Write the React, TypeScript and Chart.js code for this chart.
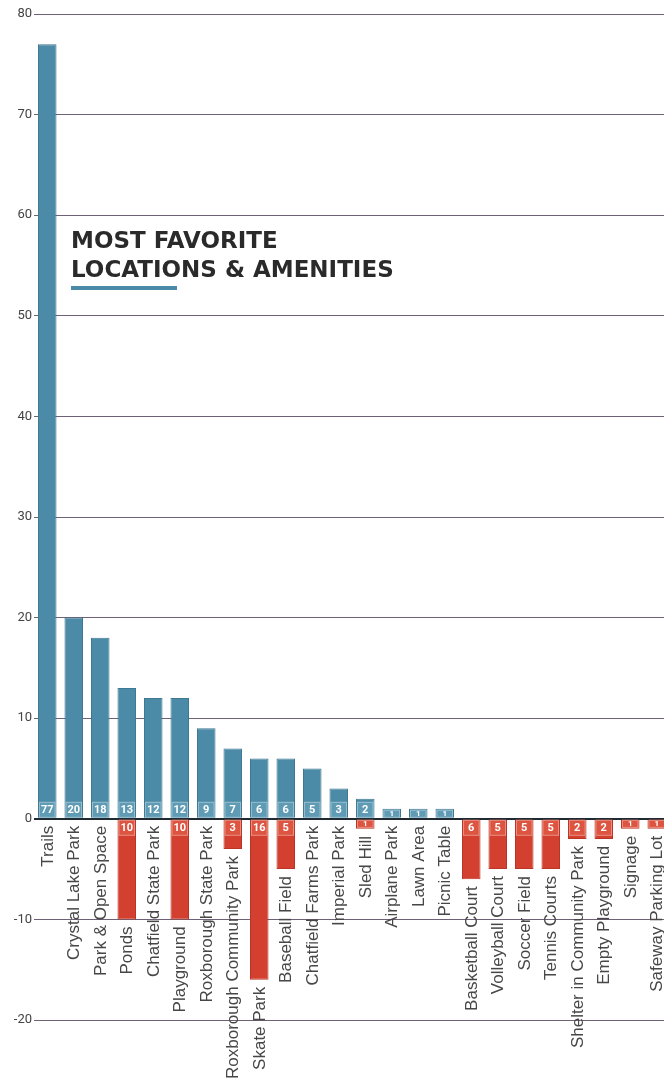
import React, { useEffect, useRef } from "react";
import { Chart, registerables } from "chart.js";

Chart.register(...registerables);

const categories = [
  "Trails",
  "Crystal Lake Park",
  "Park & Open Space",
  "Ponds",
  "Chatfield State Park",
  "Playground",
  "Roxborough State Park",
  "Roxborough Community Park",
  "Skate Park",
  "Baseball Field",
  "Chatfield Farms Park",
  "Imperial Park",
  "Sled Hill",
  "Airplane Park",
  "Lawn Area",
  "Picnic Table",
  "Basketball Court",
  "Volleyball Court",
  "Soccer Field",
  "Tennis Courts",
  "Shelter in Community Park",
  "Empty Playground",
  "Signage",
  "Safeway Parking Lot",
];

const favoriteCounts = [77, 20, 18, 13, 12, 12, 9, 7, 6, 6, 5, 3, 2, 1, 1, 1, 0, 0, 0, 0, 0, 0, 0, 0];
const leastFavoriteCounts = [0, 0, 0, 10, 0, 10, 0, 3, 16, 5, 0, 0, 1, 0, 0, 0, 6, 5, 5, 5, 2, 2, 1, 1];

const yMin = -20;
const yMax = 80;
const yStep = 10;

const titleLines = ["MOST FAVORITE", "LOCATIONS & AMENITIES"];

const BLUE = "#4c8ba7";
const BLUE_DARK = "#3f7892";
const RED = "#d3402f";
const RED_DARK = "#b93526";

const labelsPlugin = {
  id: "customLabels",
  afterDatasetsDraw(chart: any) {
    const ctx = chart.ctx;
    const xScale = chart.scales.x;
    const yScale = chart.scales.y;
    const zeroY = yScale.getPixelForValue(0);

    // value boxes
    chart.data.datasets.forEach((ds: any, di: number) => {
      const meta = chart.getDatasetMeta(di);
      meta.data.forEach((bar: any, i: number) => {
        const raw = di === 0 ? favoriteCounts[i] : leastFavoriteCounts[i];
        if (!raw) return;
        const props = bar.getProps(["x", "y", "base", "width"], true);
        const h = Math.abs(props.base - props.y);
        const bh = Math.min(16, h - 1);
        const bw = props.width - 2;
        const left = props.x - bw / 2;
        const top = di === 0 ? zeroY - 1 - bh : zeroY + 1;
        ctx.save();
        ctx.fillStyle = di === 0 ? "#5f9bb5" : "#dd5440";
        ctx.strokeStyle = "rgba(255,255,255,0.35)";
        ctx.lineWidth = 1;
        ctx.fillRect(left, top, bw, bh);
        ctx.strokeRect(left + 0.5, top + 0.5, bw - 1, bh - 1);
        ctx.fillStyle = "#ffffff";
        const fs = Math.min(11, bh);
        ctx.font = `bold ${fs}px Roboto, "Noto Sans", sans-serif`;
        ctx.textAlign = "center";
        ctx.textBaseline = "middle";
        ctx.fillText(String(raw), props.x, top + bh / 2 + 0.5);
        ctx.restore();
      });
    });

    // category labels
    ctx.save();
    ctx.fillStyle = "#474747";
    ctx.font = '17px "Liberation Sans", Arial, sans-serif';
    ctx.textAlign = "right";
    ctx.textBaseline = "middle";
    categories.forEach((label, i) => {
      const x = xScale.getPixelForValue(i);
      const neg = leastFavoriteCounts[i];
      const bottom = neg ? yScale.getPixelForValue(-neg) : zeroY;
      const top = bottom + 7;
      ctx.save();
      ctx.translate(x + 1, top);
      ctx.rotate(-Math.PI / 2);
      ctx.fillText(label, 0, 0);
      ctx.restore();
    });
    ctx.restore();
  },
};

export default function App() {
  const canvasRef = useRef<HTMLCanvasElement | null>(null);

  useEffect(() => {
    if (!canvasRef.current) return;
    const chart = new Chart(canvasRef.current, {
      type: "bar",
      data: {
        labels: categories,
        datasets: [
          {
            label: "Most favorite",
            data: favoriteCounts.map((v) => (v ? v : null)),
            backgroundColor: BLUE,
            borderColor: BLUE_DARK,
            borderWidth: 1,
            barPercentage: 0.7,
            categoryPercentage: 1.0,
          },
          {
            label: "Least favorite",
            data: leastFavoriteCounts.map((v) => (v ? -v : null)),
            backgroundColor: RED,
            borderColor: RED_DARK,
            borderWidth: 1,
            barPercentage: 0.7,
            categoryPercentage: 1.0,
          },
        ],
      },
      options: {
        responsive: false,
        animation: false,
        devicePixelRatio: 1,
        layout: { padding: { top: 14, bottom: 62, left: 0, right: 0 } },
        plugins: {
          legend: { display: false },
          tooltip: { enabled: false },
          title: { display: false },
        },
        scales: {
          x: {
            display: false,
            stacked: true,
          },
          y: {
            stacked: true,
            min: yMin,
            max: yMax,
            afterFit(scale: any) {
              scale.width = 34;
            },
            ticks: {
              stepSize: yStep,
              padding: 2,
              color: "#444444",
              font: { family: 'Roboto, "Noto Sans", sans-serif', size: 13 },
            },
            border: { display: false },
            grid: {
              drawTicks: false,
              color: (c: any) => (c.tick && c.tick.value === 0 ? "#1f2a33" : "#6e6075"),
              lineWidth: (c: any) => (c.tick && c.tick.value === 0 ? 2 : 1),
            },
          },
        },
      },
      plugins: [labelsPlugin],
    });
    return () => chart.destroy();
  }, []);

  return (
    <div
      style={{
        position: "absolute",
        left: 0,
        top: 0,
        width: 664,
        height: 1082,
        overflow: "hidden",
        background: "#ffffff",
      }}
    >
      <canvas ref={canvasRef} width={670} height={1082} style={{ display: "block" }} />
      <div
        style={{
          position: "absolute",
          left: 71,
          top: 226,
          fontFamily: '"DejaVu Sans", Inter, sans-serif',
          fontWeight: 700,
          fontSize: 23,
          lineHeight: "29px",
          color: "#2a2a2a",
          whiteSpace: "nowrap",
        }}
      >
        {titleLines.map((t) => (
          <div key={t}>{t}</div>
        ))}
        <div style={{ width: 106, height: 4, background: BLUE, marginTop: 2 }} />
      </div>
    </div>
  );
}
